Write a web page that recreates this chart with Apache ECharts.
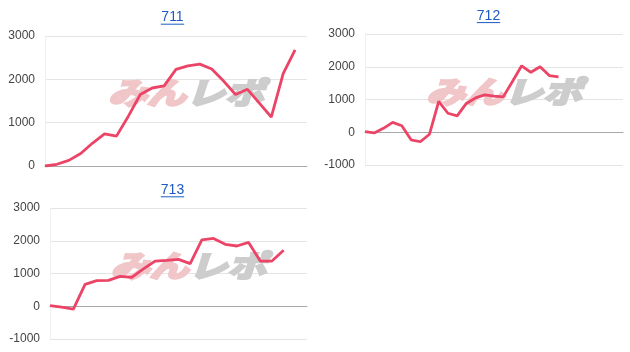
<!DOCTYPE html>
<html>
<head>
<meta charset="utf-8">
<script src="https://cdn.jsdelivr.net/npm/echarts@6/dist/echarts.min.js"></script>
<style>
html,body{margin:0;padding:0;background:#fff;}
#c{width:630px;height:352px;}
</style>
</head>
<body>
<div id="c"></div>
<script>
// ---- data ----
var titles = ['711', '712', '713'];
var days711 = ['1','2','3','4','5','6','7','8','9','10','11','12','13','14','15','16','17','18','19','20','21','22','23'];
var days712 = ['1','2','3','4','5','6','7','8','9','10','11','12','13','14','15','16','17','18','19','20','21','22','23','24','25','26','27','28','29'];
var days713 = ['1','2','3','4','5','6','7','8','9','10','11','12','13','14','15','16','17','18','19','20','21','22','23'];
var values711 = [0, 40, 130, 290, 530, 740, 690, 1150, 1650, 1800, 1850, 2230, 2310, 2350, 2240, 1960, 1650, 1770, 1450, 1130, 2130, 2680];
var values712 = [20, -20, 120, 300, 200, -230, -290, -60, 940, 580, 500, 880, 1050, 1140, 1100, 1080, 1550, 2030, 1830, 2000, 1730, 1690];
var values713 = [20, -30, -90, 670, 780, 790, 910, 880, 1140, 1380, 1400, 1430, 1300, 2030, 2070, 1890, 1840, 1950, 1380, 1380, 1710];
var yTicks711 = [0, 3000, 1000];
var yTicks712 = [-1000, 3000, 1000];
var yTicks713 = [-1000, 3000, 1000];

// ---- layout ----
var grids = [
  {left: 45, top: 36, width: 262, height: 130},
  {left: 365, top: 34, width: 258, height: 131},
  {left: 50, top: 208, width: 257, height: 131}
];
var cats = [days711, days712, days713];
var vals = [values711, values712, values713];
var ticks = [yTicks711, yTicks712, yTicks713];
var titlePos = [
  {x: 172.5, y: 17.5, u: 24.2},
  {x: 488.5, y: 15.8, u: 22.6},
  {x: 172.5, y: 190, u: 196.8}
];
var FONT = 'Arial, "Liberation Sans", sans-serif';
var LINK = '#1d5ac3';
var JP = '"Noto Sans CJK JP"';

var xAxes = [], yAxes = [], series = [], graphics = [];
for (var i = 0; i < 3; i++) {
  xAxes.push({
    type: 'category', gridIndex: i, data: cats[i], boundaryGap: false,
    axisLine: {show: true, onZero: true, lineStyle: {color: '#a8a8a8', width: 1}},
    axisTick: {show: false}, axisLabel: {show: false}, splitLine: {show: false}
  });
  yAxes.push({
    type: 'value', gridIndex: i, min: ticks[i][0], max: ticks[i][1], interval: ticks[i][2],
    axisLine: {show: true, lineStyle: {color: '#f0f0f0'}},
    axisTick: {show: false},
    axisLabel: {color: '#444', fontSize: 12, fontFamily: FONT, margin: 10,
      formatter: function (v) { return String(v); }},
    splitLine: {lineStyle: {color: '#e4e4e4', width: 1}}
  });
  series.push({
    type: 'line', xAxisIndex: i, yAxisIndex: i, data: vals[i],
    symbol: 'none', smooth: false, z: 5,
    lineStyle: {color: '#ec4466', width: 2.8}
  });
  graphics.push({
    type: 'text', x: titlePos[i].x, y: titlePos[i].y, z: 10,
    style: {text: titles[i], fill: LINK, font: '14px ' + FONT, textAlign: 'center', textVerticalAlign: 'middle'}
  });
  graphics.push({
    type: 'line', z: 10,
    shape: {x1: titlePos[i].x - 11.7, y1: titlePos[i].u, x2: titlePos[i].x + 11.7, y2: titlePos[i].u},
    style: {stroke: LINK, lineWidth: 1}
  });
  var g = grids[i];
  var cx = g.left + g.width / 2 + 10;
  var cy = g.top + g.height / 2 - 8;
  graphics.push({
    type: 'group', x: cx, y: cy, scaleX: 1.3, scaleY: 1, z: 1,
    children: [
      {type: 'text', x: 0, y: 0, z: 1,
       style: {text: 'みん', fill: '#f1c6c8', stroke: '#f1c6c8', lineWidth: 2.5,
               font: 'italic bold 30px ' + JP, textAlign: 'right', textVerticalAlign: 'middle'}},
      {type: 'text', x: 0, y: 0, z: 1,
       style: {text: 'レポ', fill: '#cdcdcd', stroke: '#cdcdcd', lineWidth: 2.5,
               font: 'italic bold 30px ' + JP, textAlign: 'left', textVerticalAlign: 'middle'}}
    ]
  });
}

var chart = echarts.init(document.getElementById('c'), null, {renderer: 'canvas'});
chart.setOption({
  animation: false,
  backgroundColor: '#fff',
  grid: grids,
  xAxis: xAxes,
  yAxis: yAxes,
  series: series,
  graphic: graphics
});
</script>
</body>
</html>
